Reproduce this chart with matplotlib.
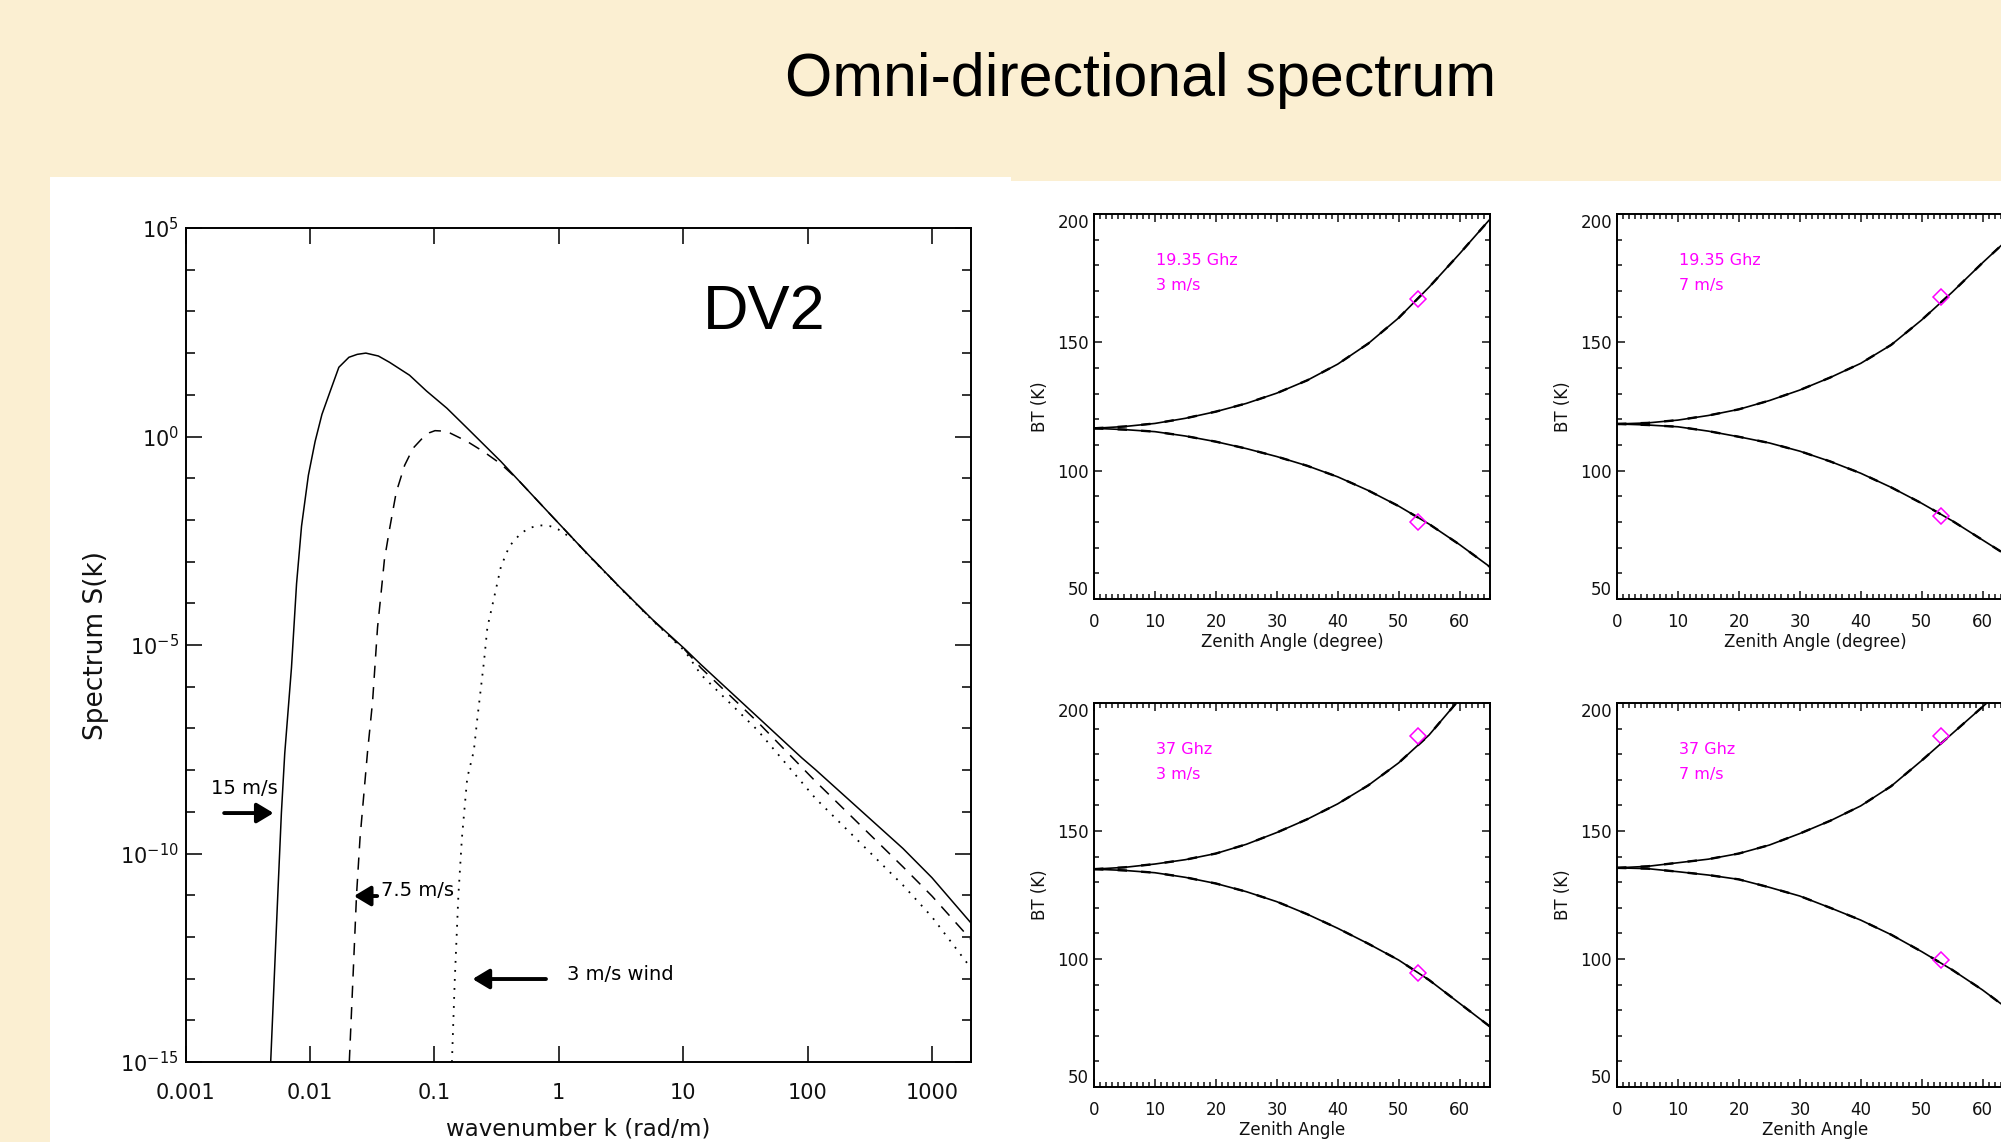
import numpy as np
import matplotlib
matplotlib.use("Agg")
import matplotlib.pyplot as plt
from matplotlib.patches import Rectangle
from matplotlib.ticker import FixedLocator, FixedFormatter, NullLocator, NullFormatter, MultipleLocator

# ---- omni-directional wavenumber spectra (log10 k, log10 S) ----
log_k_15 = [-2.316, -2.259, -2.230, -2.203, -2.149, -2.108, -2.068, -2.013, -1.959, -1.904,
            -1.837, -1.768, -1.687, -1.620, -1.551, -1.450, -1.361, -1.200, -1.063, -0.900,
            -0.736, -0.465, -0.058, 0.200, 0.486, 0.750, 1.015, 1.143, 1.600, 1.955,
            2.064, 2.767, 3.000, 3.309]
log_s_15 = [-15.0, -11.0, -9.03, -7.60, -5.55, -3.53, -2.15, -0.93, -0.12, 0.53,
            1.09, 1.66, 1.90, 1.97, 2.00, 1.93, 1.78, 1.47, 1.09, 0.68,
            0.20, -0.60, -1.90, -2.72, -3.60, -4.38, -5.10, -5.47, -6.73, -7.71,
            -7.99, -9.88, -10.58, -11.65]

log_k_75 = [-1.684, -1.655, -1.626, -1.598, -1.538, -1.497, -1.457, -1.429, -1.402, -1.361,
            -1.307, -1.239, -1.171, -1.090, -1.040, -0.995, -0.930, -0.872, -0.736, -0.601,
            -0.465, -0.330, -0.058, 0.200, 0.486, 0.750, 1.015, 1.143, 1.600, 2.064,
            2.767, 3.000, 3.309]
log_s_75 = [-15.0, -13.02, -11.0, -9.64, -7.58, -6.36, -4.58, -3.77, -2.96, -2.23,
            -1.34, -0.69, -0.28, -0.02, 0.09, 0.14, 0.13, 0.08, -0.12, -0.37,
            -0.66, -1.03, -1.90, -2.72, -3.60, -4.39, -5.12, -5.55, -6.85, -8.27,
            -10.32, -11.02, -12.05]

log_k_3 = [-0.859, -0.836, -0.807, -0.779, -0.736, -0.683, -0.655, -0.601, -0.574, -0.519,
           -0.465, -0.397, -0.302, -0.220, -0.150, -0.070, -0.003, 0.133, 0.200, 0.486,
           0.750, 1.015, 1.143, 1.600, 2.064, 2.767, 3.000, 3.309]
log_s_3 = [-15.0, -13.02, -11.0, -9.64, -8.19, -7.54, -6.77, -5.39, -4.58, -3.85,
           -3.12, -2.63, -2.31, -2.18, -2.13, -2.15, -2.23, -2.50, -2.73, -3.61,
           -4.40, -5.15, -5.71, -7.05, -8.68, -10.76, -11.52, -12.73]

k_ticks = [0.001, 0.01, 0.1, 1, 10, 100, 1000]
k_tick_labels = ["0.001", "0.01", "0.1", "1", "10", "100", "1000"]

# ---- brightness temperature vs zenith angle ----
zenith = [0, 5, 10, 15, 20, 25, 30, 35, 40, 45, 50, 55, 60, 65]

bt_v_19_3 = [116.5, 117.2, 118.4, 120.4, 123.0, 126.2, 130.2, 135.2, 141.5, 149.5, 159.5, 171.5, 184.5, 198.0]
bt_h_19_3 = [116.5, 116.0, 115.2, 113.5, 111.3, 108.6, 105.5, 101.9, 97.6, 92.3, 86.2, 79.2, 71.2, 62.5]

bt_v_19_7 = [118.2, 118.6, 119.7, 121.5, 123.9, 127.3, 131.4, 136.3, 141.8, 149.0, 158.7, 169.5, 181.0, 192.0]
bt_h_19_7 = [118.2, 117.8, 117.1, 115.4, 113.2, 110.8, 107.6, 103.6, 99.0, 93.5, 87.3, 80.5, 73.0, 65.5]

bt_v_37_3 = [135.1, 135.8, 137.1, 138.8, 141.2, 144.8, 149.4, 154.6, 160.6, 167.8, 176.6, 187.5, 201.5]
bt_h_37_3 = [135.1, 134.6, 133.7, 131.9, 129.5, 126.3, 122.4, 117.5, 112.0, 106.0, 99.6, 91.8, 82.7, 73.6]

bt_v_37_7 = [135.6, 136.2, 137.6, 139.0, 141.2, 144.5, 149.0, 154.0, 159.8, 167.5, 177.5, 188.0, 198.5, 209.0]
bt_h_37_7 = [135.6, 135.3, 134.1, 132.8, 131.1, 128.0, 124.6, 120.0, 115.2, 109.5, 102.9, 95.8, 87.9, 79.0]

# SSM/I incidence angle points (V, H)
ssmi_angle = 53.1
ssmi_19_3 = [167.0, 80.0]
ssmi_19_7 = [167.5, 82.5]
ssmi_37_3 = [187.0, 94.5]
ssmi_37_7 = [187.0, 99.5]

W, H = 2001, 1142
fig = plt.figure(figsize=(W / 100, H / 100), dpi=100)
fig.patch.set_facecolor("#fbefd2")

# white backing panels
fig.add_artist(Rectangle((50 / W, 0), (1011 - 50) / W, 1 - 177 / H, transform=fig.transFigure,
                         facecolor="white", edgecolor="none", zorder=0))
fig.add_artist(Rectangle((1011 / W, 0), (W - 1011) / W, 1 - 181 / H, transform=fig.transFigure,
                         facecolor="white", edgecolor="none", zorder=0))


def fit_width(txt, width_px):
    # shrink/grow a text so it spans the given width in pixels
    r = fig.canvas.get_renderer()
    w = txt.get_window_extent(r).width
    txt.set_fontsize(txt.get_fontsize() * width_px / w)


narrow = ["Liberation Sans Narrow", "Liberation Sans", "DejaVu Sans"]
title = fig.text(1141 / W, 1 - 96 / H, "Omni-directional spectrum", family=narrow, fontsize=50,
                 ha="center", va="baseline", color="black")
fit_width(title, 712)

# ---- spectrum panel ----
ax = fig.add_axes([185.6 / W, 1 - 1062 / H, (971 - 185.6) / W, (1062 - 228) / H])
ax.set_facecolor("white")
ax.set_xscale("log")
ax.set_yscale("log")
ax.plot(10 ** np.array(log_k_15), 10 ** np.array(log_s_15), color="black", lw=1.1)
ax.plot(10 ** np.array(log_k_75), 10 ** np.array(log_s_75), color="black", lw=1.1,
        linestyle=(0, (8, 6)))
ax.plot(10 ** np.array(log_k_3), 10 ** np.array(log_s_3), color="black", lw=1.3,
        linestyle=(0, (1, 4)))
ax.set_xlim(1e-3, 2060)
ax.set_ylim(1e-15, 1e5)

ax.xaxis.set_major_locator(FixedLocator(k_ticks))
ax.xaxis.set_major_formatter(FixedFormatter(k_tick_labels))
ax.xaxis.set_minor_locator(NullLocator())
ax.yaxis.set_major_locator(FixedLocator([1e-15, 1e-10, 1e-5, 1e0, 1e5]))
ax.yaxis.set_minor_locator(FixedLocator(10.0 ** np.arange(-15, 6)))
ax.yaxis.set_minor_formatter(NullFormatter())
ax.tick_params(which="both", direction="in", top=True, right=True, width=1.2, colors="#111111")
ax.tick_params(which="major", length=11.5, labelsize=15)
ax.tick_params(which="minor", length=6.5)
ax.tick_params(axis="x", pad=15)
ax.tick_params(axis="y", pad=5)
for s in ax.spines.values():
    s.set_linewidth(1.4)

fig.text(96 / W, 1 - 645 / H, "Spectrum S(k)", rotation=90, ha="center", va="center",
         fontsize=19, color="#111111")
fig.text(578 / W, 1 - 1129 / H, "wavenumber k (rad/m)", ha="center", va="center",
         fontsize=16.5, color="#111111")
dv2 = fig.text(764 / W, 1 - 329 / H, "DV2", family=narrow, fontsize=50, ha="center", va="baseline")
fit_width(dv2, 123)

arrow = dict(arrowstyle="-|>,head_length=0.5,head_width=0.3", lw=2.8, color="black",
             shrinkA=0, shrinkB=0, mutation_scale=20)
ax.annotate("", xy=(10 ** -2.293, 10 ** -9.03), xytext=(10 ** -2.69, 10 ** -9.03), arrowprops=arrow)
ax.text(10 ** -2.53, 10 ** -8.43, "15 m/s", fontsize=14, ha="center", va="center")
ax.annotate("", xy=(10 ** -1.647, 10 ** -11.02), xytext=(10 ** -1.46, 10 ** -11.02), arrowprops=arrow)
ax.text(10 ** -1.138, 10 ** -10.89, "7.5 m/s", fontsize=14, ha="center", va="center")
ax.annotate("", xy=(10 ** -0.693, 10 ** -13.01), xytext=(10 ** -0.103, 10 ** -13.01), arrowprops=arrow)
ax.text(10 ** 0.494, 10 ** -12.89, "3 m/s wind", fontsize=14, ha="center", va="center")


# ---- brightness temperature panels ----
def bt_panel(rect, v, h, ssmi, freq, wind, xlabel):
    a = fig.add_axes(rect)
    a.set_facecolor("white")
    for vals in (v, h):
        a.plot(zenith[:len(vals)], vals, color="black", lw=1.2)
        a.plot(zenith[:len(vals)], vals, color="black", lw=1.7, linestyle=(0, (4, 6)))
    a.plot([ssmi_angle, ssmi_angle], ssmi, linestyle="none", marker="D", ms=8,
           mfc="none", mec="#ff00ff", mew=1.1)
    a.set_xlim(0, 65)
    a.set_ylim(50, 200)
    a.xaxis.set_major_locator(MultipleLocator(10))
    a.xaxis.set_minor_locator(MultipleLocator(1))
    a.set_yticks([50, 100, 150, 200])
    a.yaxis.set_minor_locator(MultipleLocator(10))
    a.tick_params(which="both", direction="in", top=True, right=True, width=1.1,
                  labelsize=12, colors="#111111")
    a.tick_params(which="major", length=6)
    a.tick_params(which="minor", length=3.5)
    a.tick_params(axis="x", pad=10)
    a.tick_params(axis="y", pad=3.5)
    for s in a.spines.values():
        s.set_linewidth(1.4)
    yt = a.yaxis.get_major_ticks()
    yt[0].label1.set_verticalalignment("bottom")
    yt[-1].label1.set_verticalalignment("top")
    a.text(10.2, 182, freq, color="#ff00ff", fontsize=11.5, va="center")
    a.text(10.2, 172, wind, color="#ff00ff", fontsize=11.5, va="center")
    a.text(-0.136, 0.5, "BT (K)", rotation=90, transform=a.transAxes, ha="center",
           va="center", fontsize=12, color="#111111")
    a.text(0.5, -0.112, xlabel, transform=a.transAxes, ha="center", va="center",
           fontsize=12, color="#111111")
    return a


pw = 396 / W
top_rect_y, top_h = 1 - 599 / H, 385 / H
bot_rect_y, bot_h = 1 - 1087 / H, 384 / H
bt_panel([1094 / W, top_rect_y, pw, top_h], bt_v_19_3, bt_h_19_3, ssmi_19_3,
         "19.35 Ghz", "3 m/s", "Zenith Angle (degree)")
bt_panel([1617 / W, top_rect_y, pw, top_h], bt_v_19_7, bt_h_19_7, ssmi_19_7,
         "19.35 Ghz", "7 m/s", "Zenith Angle (degree)")
bt_panel([1094 / W, bot_rect_y, pw, bot_h], bt_v_37_3, bt_h_37_3, ssmi_37_3,
         "37 Ghz", "3 m/s", "Zenith Angle")
bt_panel([1617 / W, bot_rect_y, pw, bot_h], bt_v_37_7, bt_h_37_7, ssmi_37_7,
         "37 Ghz", "7 m/s", "Zenith Angle")

fig.savefig("out.png", dpi=100, facecolor=fig.get_facecolor())
